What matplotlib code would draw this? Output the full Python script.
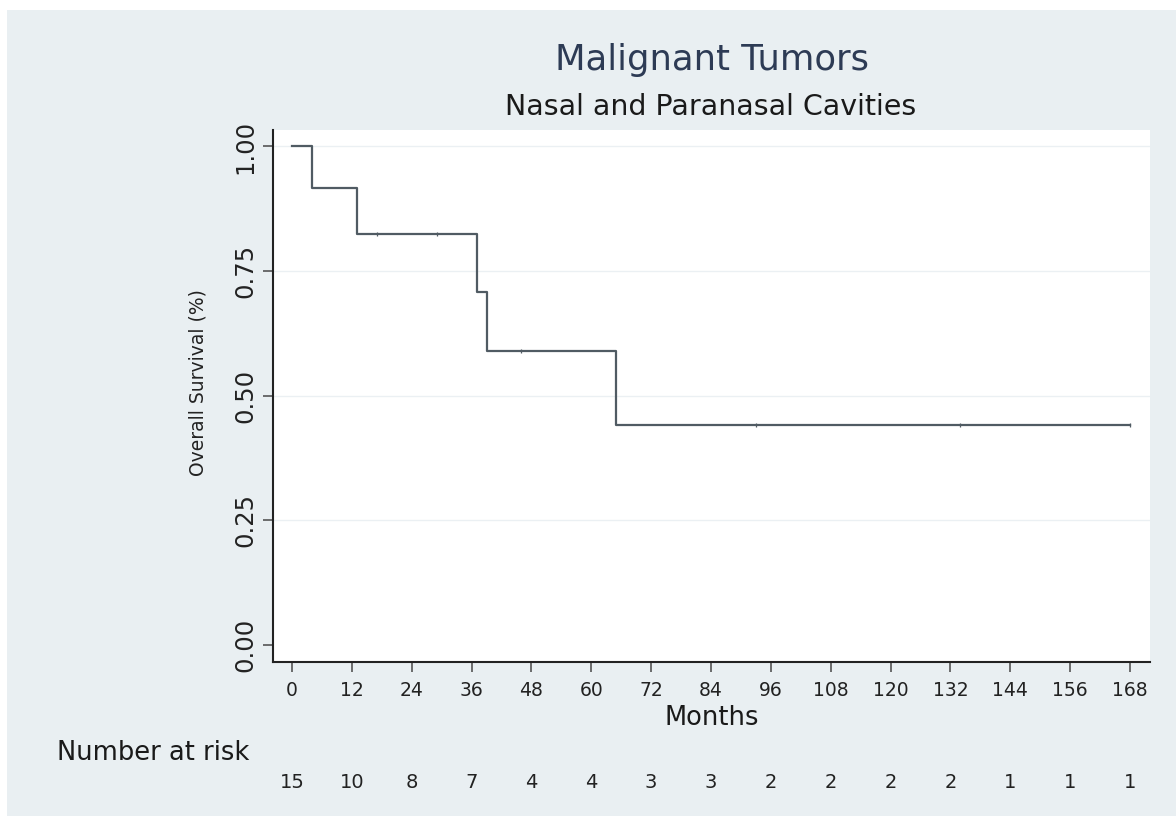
import matplotlib.pyplot as plt
import matplotlib.transforms as mtransforms
from matplotlib.patches import Rectangle

# Kaplan-Meier step data (time in months, survival)
step_times = [0, 4, 13, 37, 39, 65, 168]
step_surv = [1.0, 0.9167, 0.825, 0.7071, 0.5893, 0.4420, 0.4420]
censor_times = [17, 29, 46, 93, 134, 168]
censor_surv = [0.825, 0.825, 0.5893, 0.4420, 0.4420, 0.4420]

risk_times = [0, 12, 24, 36, 48, 60, 72, 84, 96, 108, 120, 132, 144, 156, 168]
risk_counts = [15, 10, 8, 7, 4, 4, 3, 3, 2, 2, 2, 2, 1, 1, 1]
y_ticks = [0.0, 0.25, 0.5, 0.75, 1.0]

bg = '#e9eff2'
line_col = '#505b63'
W, H = 1176, 816

plt.rcParams['font.family'] = ['DejaVu Sans']

fig = plt.figure(figsize=(W / 100, H / 100), dpi=100, facecolor='white')
fig.patches.append(Rectangle((7 / W, 0), 1 - 7 / W, 1 - 10 / H,
                             transform=fig.transFigure, facecolor=bg,
                             edgecolor='none', zorder=-10))

ax = fig.add_axes([273 / W, 1 - 662 / H, 877 / W, 532 / H])
ax.set_facecolor('white')
ax.set_xlim(-3.8, 172)
ax.set_ylim(-0.034, 1.033)

for y in y_ticks[1:]:
    ax.axhline(y, color='#ebf0f3', lw=1.0, zorder=0)

ax.step(step_times, step_surv, where='post', color=line_col, lw=1.6)
ax.plot(censor_times, censor_surv, ls='none', marker='|', ms=3.5,
        mew=0.9, color=line_col)

for s in ['top', 'right']:
    ax.spines[s].set_visible(False)
for s in ['left', 'bottom']:
    ax.spines[s].set_color('#222222')
    ax.spines[s].set_linewidth(1.5)

ax.set_xticks(risk_times)
ax.set_xticklabels([str(t) for t in risk_times], fontsize=13.5, color='#222222')
ax.set_yticks(y_ticks)
ax.set_yticklabels(['%.2f' % y for y in y_ticks], fontsize=17.5,
                   rotation=90, va='center', color='#222222')
ax.tick_params(axis='x', length=7.5, width=1.2, color='#555555', pad=6)
ax.tick_params(axis='y', length=7.5, width=1.2, color='#555555', pad=3.5)

ax.set_ylabel('Overall Survival (%)', fontsize=13.5, color='#222222')
ax.yaxis.set_label_coords(-0.075, 0.525)

fig.text(712 / W, 1 - 70 / H, 'Malignant Tumors', fontsize=25.5,
         color='#2d3b55', ha='center', va='baseline')
fig.text(711 / W, 1 - 115 / H, 'Nasal and Paranasal Cavities',
         fontsize=20.5, color='#1a1a1a', ha='center', va='baseline')
fig.text(712 / W, 1 - 725 / H, 'Months', fontsize=18.5, color='#1a1a1a',
         ha='center', va='baseline')

fig.text(57 / W, 1 - 760 / H, 'Number at risk', fontsize=18.5,
         color='#1a1a1a', ha='left', va='baseline')
trans = mtransforms.blended_transform_factory(ax.transData, fig.transFigure)
for t, n in zip(risk_times, risk_counts):
    ax.text(t, 1 - 788 / H, str(n), transform=trans, fontsize=14,
            color='#222222', ha='center', va='baseline', clip_on=False)

fig.savefig('out.png', dpi=100, facecolor=fig.get_facecolor())
